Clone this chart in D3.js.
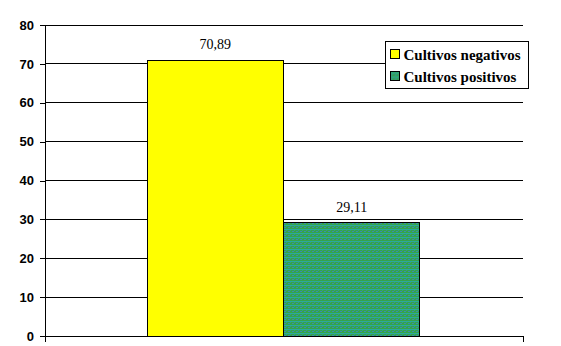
<!DOCTYPE html>
<html>
<head>
<meta charset="utf-8">
<script src="https://cdn.jsdelivr.net/npm/d3@7"></script>
<style>
  body { margin: 0; background: #fff; }
  svg { display: block; }
</style>
</head>
<body>
<svg></svg>
<script>
let width = 561
let height = 346

// data
let series = ['Cultivos negativos', 'Cultivos positivos']
let values = [70.89, 29.11]
let valueLabels = ['70,89', '29,11']
let yTicks = [0, 10, 20, 30, 40, 50, 60, 70, 80]
let colors = ['#ffff00', 'url(#greenDots)']

let svg = d3.select('svg')
  .attr('width', width)
  .attr('height', height)

// dithered green fill, like the old excel pattern
let defs = svg.append('defs')
let pat = defs.append('pattern')
    .attr('id', 'greenDots')
    .attr('patternUnits', 'userSpaceOnUse')
    .attr('width', 4)
    .attr('height', 4)
pat.append('rect').attr('width', 4).attr('height', 4).attr('fill', '#35a44a')
pat.append('rect').attr('y', 1).attr('width', 4).attr('height', 1).attr('fill', '#2aaa9c')
pat.append('rect').attr('y', 3).attr('width', 2).attr('height', 1).attr('fill', '#3a8cb0')
pat.append('rect').attr('x', 2).attr('y', 2).attr('width', 1).attr('height', 1).attr('fill', '#2f9a8a')

let yScale = d3.scaleLinear()
                .domain([0, 80])
                .range([336, 25])

let xScale = d3.scaleLinear()
                .domain([0, 1])
                .range([45, 523])

// bars sit in the middle of the single category
let barScale = d3.scaleBand()
                .domain(series)
                .range([xScale(0.2134), xScale(0.7845)])

// gridlines
svg.append('g')
  .selectAll('line')
  .data(yTicks.filter(d => d > 0))
  .enter()
  .append('line')
    .attr('x1', xScale(0))
    .attr('x2', xScale(1))
    .attr('y1', d => yScale(d))
    .attr('y2', d => yScale(d))
    .attr('stroke', '#000')
    .attr('shape-rendering', 'crispEdges')

// y axis
let yAxis = d3.axisLeft(yScale)
              .tickValues(yTicks)
              .tickSize(5)
              .tickSizeOuter(0)
              .tickPadding(6)

let yG = svg.append('g')
    .attr('transform', `translate(${xScale(0)}, 0)`)
    .call(yAxis)
yG.select('.domain').remove()
yG.selectAll('line').attr('shape-rendering', 'crispEdges')
yG.selectAll('text')
    .style('font-family', 'Liberation Sans, Arial, sans-serif')
    .style('font-weight', 'bold')
    .style('font-size', '13px')
    .attr('fill', '#000')

svg.append('line')
    .attr('x1', xScale(0)).attr('x2', xScale(0))
    .attr('y1', yScale(80)).attr('y2', yScale(0) + 6)
    .attr('stroke', '#000')
    .attr('shape-rendering', 'crispEdges')

// bars
svg.append('g')
  .selectAll('rect')
  .data(values)
  .enter()
  .append('rect')
    .attr('x', (d, i) => barScale(series[i]))
    .attr('y', d => yScale(d))
    .attr('width', barScale.bandwidth())
    .attr('height', d => yScale(0) - yScale(d))
    .attr('fill', (d, i) => colors[i])
    .attr('stroke', '#000')
    .attr('shape-rendering', 'crispEdges')

// value labels
svg.append('g')
  .selectAll('text')
  .data(values)
  .enter()
  .append('text')
    .attr('x', (d, i) => barScale(series[i]) + barScale.bandwidth() / 2)
    .attr('y', d => yScale(d) - 11)
    .style('text-anchor', 'middle')
    .style('font-family', 'Liberation Serif, Times New Roman, serif')
    .style('font-size', '14px')
    .text((d, i) => valueLabels[i])

// x axis
svg.append('line')
    .attr('x1', xScale(0)).attr('x2', xScale(1))
    .attr('y1', yScale(0)).attr('y2', yScale(0))
    .attr('stroke', '#000')
    .attr('shape-rendering', 'crispEdges')
svg.append('line')
    .attr('x1', xScale(1)).attr('x2', xScale(1))
    .attr('y1', yScale(0)).attr('y2', yScale(0) + 6)
    .attr('stroke', '#000')
    .attr('shape-rendering', 'crispEdges')

// legend
let legend = svg.append('g')
    .attr('transform', 'translate(385.5, 41.5)')
legend.append('rect')
    .attr('width', 143)
    .attr('height', 47)
    .attr('fill', '#fff')
    .attr('stroke', '#000')

let items = legend.selectAll('g.item')
  .data(series)
  .enter()
  .append('g')
    .attr('transform', (d, i) => `translate(5, ${8 + i * 22})`)
items.append('rect')
    .attr('width', 9)
    .attr('height', 9)
    .attr('fill', (d, i) => colors[i])
    .attr('stroke', '#000')
items.append('text')
    .attr('x', 13)
    .attr('y', 10)
    .style('font-family', 'Liberation Serif, Times New Roman, serif')
    .style('font-weight', 'bold')
    .style('font-size', '15px')
    .text(d => d)
</script>
</body>
</html>
